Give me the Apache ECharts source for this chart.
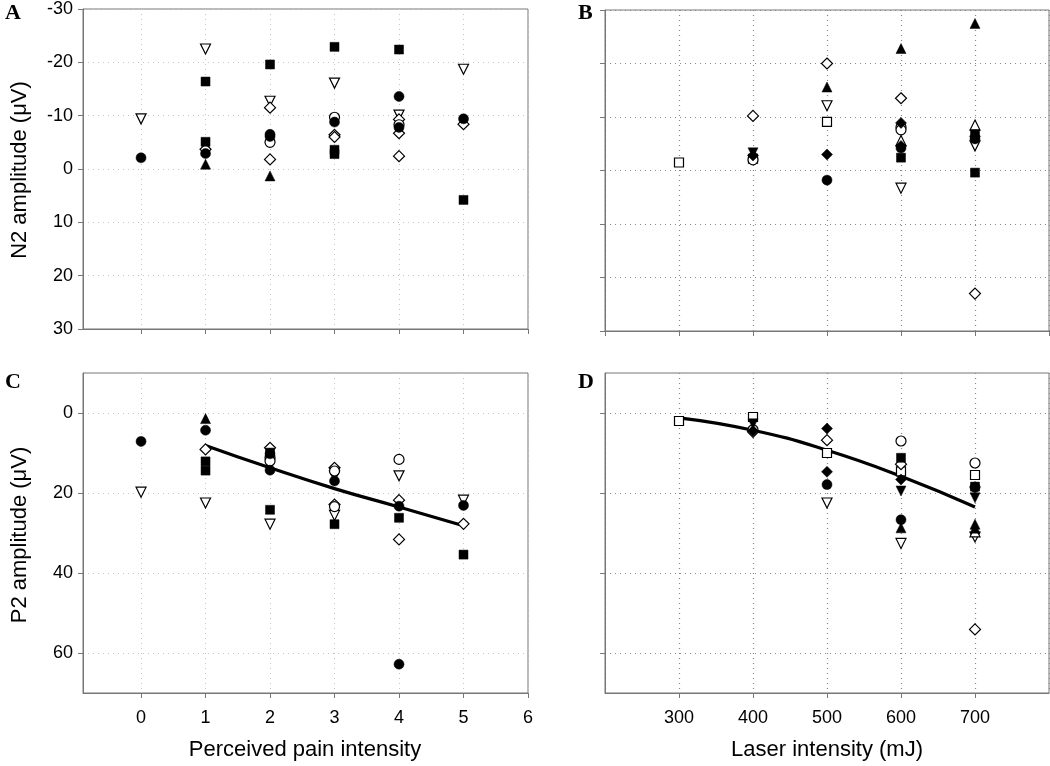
<!DOCTYPE html>
<html>
<head>
<meta charset="utf-8">
<script src="https://cdn.jsdelivr.net/npm/echarts@6/dist/echarts.min.js"></script>
<style>
html,body{margin:0;padding:0;background:#fff;}
#chart{width:1050px;height:766px;}
</style>
</head>
<body>
<div id="chart"></div>
<script>
// ---------- DATA ----------
// Tick labels
const painTicks = [0, 1, 2, 3, 4, 5, 6];
const laserTicks = [300, 400, 500, 600, 700];
const n2Ticks = [-30, -20, -10, 0, 10, 20, 30];
const p2Ticks = [0, 20, 40, 60];

// Panel A: N2 amplitude vs perceived pain intensity
const A_filledCircle   = [[0,-2.1],[1,-2.9],[2,-6.5],[2,-6.1],[3,-8.8],[4,-13.6],[4,-7.8],[5,-9.4]];
const A_filledSquare   = [[1,-16.4],[1,-5.1],[2,-19.6],[3,-22.9],[3,-3.6],[3,-2.8],[4,-22.4],[5,5.8]];
const A_filledTriangle = [[1,-0.9],[2,1.3]];
const A_openTriDown    = [[0,-9.4],[1,-22.5],[2,-12.7],[3,-16.1],[4,-10.1],[5,-18.7]];
const A_openDiamond    = [[1,-3.7],[2,-11.5],[2,-1.8],[3,-6.4],[3,-6.0],[4,-9.3],[4,-6.7],[4,-2.4],[5,-8.4]];
const A_openCircle     = [[2,-5.0],[3,-9.7],[4,-8.3]];

// Panel B: N2 amplitude vs laser intensity
const B_openSquare     = [[300,-1.5],[400,-2.2],[500,-9.1]];
const B_openDiamond    = [[400,-10.2],[500,-20.0],[600,-13.5],[700,23.0]];
const B_filledTriDown  = [[400,-3.3]];
const B_filledDiamond  = [[400,-2.8],[500,-3.0],[600,-8.9],[600,-4.6],[700,-6.4]];
const B_filledTriangle = [[500,-15.6],[600,-22.8],[700,-27.5]];
const B_openTriDown    = [[500,-12.1],[600,3.3],[700,-4.6]];
const B_filledCircle   = [[500,1.8],[600,-4.2],[700,-5.9]];
const B_openCircle     = [[400,-2.0],[600,-8.1],[600,-7.6]];
const B_openTriangle   = [[600,-5.6],[700,-8.5]];
const B_filledSquare   = [[600,-2.4],[700,0.4],[700,-6.8]];

// Panel C: P2 amplitude vs perceived pain intensity
const C_filledCircle   = [[0,7.1],[1,4.3],[2,10.2],[2,14.3],[3,17.0],[4,23.3],[4,62.8],[5,23.1]];
const C_openTriDown    = [[0,19.8],[1,22.5],[2,27.8],[3,15.8],[3,25.6],[4,15.7],[5,21.8]];
const C_filledTriangle = [[1,1.4]];
const C_openDiamond    = [[1,9.1],[2,8.7],[3,13.7],[3,22.9],[4,21.8],[4,31.6],[5,27.7]];
const C_filledSquare   = [[1,12.1],[1,14.4],[2,9.9],[2,24.2],[3,27.8],[4,26.2],[5,35.4]];
const C_openCircle     = [[2,11.2],[2,12.0],[3,14.5],[3,23.4],[4,11.6]];
const C_fit            = [[1,8.1],[2,13.7],[3,18.9],[4,23.5],[5,28.2]];

// Panel D: P2 amplitude vs laser intensity
const D_openSquare     = [[300,2.0],[400,1.0],[500,10.0],[600,14.6],[700,15.5]];
const D_filledTriDown  = [[400,2.7],[600,19.5],[700,21.2]];
const D_openCircle     = [[400,4.2],[600,7.0],[700,12.5]];
const D_openDiamond    = [[400,4.7],[500,6.8],[600,12.8],[700,54.1]];
const D_filledDiamond  = [[400,4.5],[500,3.9],[500,14.7],[600,16.6],[700,18.5]];
const D_filledCircle   = [[500,17.9],[600,26.7],[700,18.6]];
const D_openTriDown    = [[500,22.5],[600,32.6],[700,31.0]];
const D_filledSquare   = [[600,11.2],[700,18.4]];
const D_filledTriangle = [[600,28.7],[700,27.8],[700,28.8]];
const D_openTriangle   = [[700,29.7]];
const D_fit            = [[300,1.2],[400,4.3],[500,9.3],[600,15.8],[700,23.5]];

// ---------- STYLES ----------
const markerStyles = {
  filledCircle:   {symbol:'circle',   size:10, rotate:0,   open:false},
  filledSquare:   {symbol:'rect',     size:9,  rotate:0,   open:false},
  filledTriangle: {symbol:'triangle', size:10, rotate:0,   open:false},
  filledTriDown:  {symbol:'triangle', size:10, rotate:180, open:false},
  filledDiamond:  {symbol:'diamond',  size:11, rotate:0,   open:false},
  openCircle:     {symbol:'circle',   size:10, rotate:0,   open:true},
  openSquare:     {symbol:'rect',     size:9,  rotate:0,   open:true},
  openTriangle:   {symbol:'triangle', size:10, rotate:0,   open:true},
  openTriDown:    {symbol:'triangle', size:10, rotate:180, open:true},
  openDiamond:    {symbol:'diamond',  size:11, rotate:0,   open:true}
};

const panels = [
  {idx:0, sets:{filledCircle:A_filledCircle, filledSquare:A_filledSquare, filledTriangle:A_filledTriangle,
                openTriDown:A_openTriDown, openDiamond:A_openDiamond, openCircle:A_openCircle}},
  {idx:1, sets:{openSquare:B_openSquare, openDiamond:B_openDiamond, filledTriDown:B_filledTriDown,
                filledDiamond:B_filledDiamond, filledTriangle:B_filledTriangle, openTriDown:B_openTriDown,
                filledCircle:B_filledCircle, openCircle:B_openCircle, openTriangle:B_openTriangle, filledSquare:B_filledSquare}},
  {idx:2, sets:{filledCircle:C_filledCircle, openTriDown:C_openTriDown, filledTriangle:C_filledTriangle,
                openDiamond:C_openDiamond, filledSquare:C_filledSquare, openCircle:C_openCircle}, fit:C_fit},
  {idx:3, sets:{openSquare:D_openSquare, filledTriDown:D_filledTriDown, openCircle:D_openCircle,
                openDiamond:D_openDiamond, filledDiamond:D_filledDiamond, filledCircle:D_filledCircle,
                openTriDown:D_openTriDown, filledSquare:D_filledSquare, filledTriangle:D_filledTriangle,
                openTriangle:D_openTriangle}, fit:D_fit}
];

const series = [];
panels.forEach(p => {
  if (p.fit) {
    series.push({
      type:'line', xAxisIndex:p.idx, yAxisIndex:p.idx, data:p.fit, smooth:true,
      showSymbol:false, symbol:'none', lineStyle:{color:'#000', width:3.2}, z:3, silent:true
    });
  }
  Object.keys(p.sets).forEach(k => {
    const st = markerStyles[k];
    series.push({
      type:'scatter', xAxisIndex:p.idx, yAxisIndex:p.idx, data:p.sets[k],
      symbol:st.symbol, symbolSize:st.size, symbolRotate:st.rotate, z: st.open ? 4 : 5,
      itemStyle: st.open ? {color:'#fff', borderColor:'#000', borderWidth:1.2, opacity:1}
                         : {color:'#000', borderColor:'#000', borderWidth:0.5, opacity:1}
    });
  });
});

const frame = '#777';
const font = 'Liberation Sans, Arial, sans-serif';
const lab = {color:'#000', fontSize:18, fontFamily:font};

function xAxisPain(idx, showLabels) {
  return {
    type:'value', gridIndex:idx, min:-0.9, max:6,
    axisLine:{show:true, onZero:false, lineStyle:{color:frame}},
    axisTick:{show:true, length:5, lineStyle:{color:frame}, customValues:painTicks},
    axisLabel: Object.assign({show:showLabels, margin:16, customValues:painTicks}, lab),
    splitLine:{show:true, lineStyle:{color:'#c4c4c4', type:[1,4], width:1}}
  };
}
function xAxisLaser(idx, showLabels) {
  return {
    type:'value', gridIndex:idx, min:200, max:800, interval:100,
    axisLine:{show:true, onZero:false, lineStyle:{color:frame}},
    axisTick:{show:true, length:5, lineStyle:{color:frame}},
    axisLabel: Object.assign({show:showLabels, margin:16, showMinLabel:false, showMaxLabel:false,
      formatter: v => laserTicks.indexOf(v) >= 0 ? String(v) : ''}, lab),
    splitLine:{show:true, lineStyle:{color:'#888', type:[1,4], width:1.2}}
  };
}
function yAxisN2(idx, showLabels, gridColor) {
  return {
    type:'value', gridIndex:idx, min:-30, max:30, interval:10, inverse:true,
    axisLine:{show:true, onZero:false, lineStyle:{color:frame}},
    axisTick:{show:true, length:5, lineStyle:{color:frame}},
    axisLabel: Object.assign({show:showLabels, margin:10,
      formatter: v => n2Ticks.indexOf(v) >= 0 ? String(v) : ''}, lab),
    splitLine:{show:true, lineStyle:{color:gridColor, type:[1,4], width:gridColor === '#888' ? 1.2 : 1}}
  };
}
function yAxisP2(idx, showLabels, gridColor) {
  return {
    type:'value', gridIndex:idx, min:-10, max:70, inverse:true,
    axisLine:{show:true, onZero:false, lineStyle:{color:frame}},
    axisTick:{show:true, length:5, lineStyle:{color:frame}, customValues:p2Ticks},
    axisLabel: Object.assign({show:showLabels, margin:10, customValues:p2Ticks}, lab),
    splitLine:{show:true, lineStyle:{color:gridColor, type:[1,4], width:gridColor === '#888' ? 1.2 : 1}}
  };
}

const gridBase = {show:true, borderColor:frame, borderWidth:1, backgroundColor:'transparent', containLabel:false};

const option = {
  animation:false,
  backgroundColor:'#fff',
  grid:[
    Object.assign({left:83, top:9, width:445, height:320}, gridBase),
    Object.assign({left:605, top:10, width:444, height:321}, gridBase),
    Object.assign({left:83, top:373, width:445, height:320}, gridBase),
    Object.assign({left:605, top:373, width:444, height:320}, gridBase)
  ],
  xAxis:[ xAxisPain(0,false), xAxisLaser(1,false), xAxisPain(2,true), xAxisLaser(3,true) ],
  yAxis:[ yAxisN2(0,true,'#c4c4c4'), yAxisN2(1,false,'#888'), yAxisP2(2,true,'#c4c4c4'), yAxisP2(3,false,'#888') ],
  series: series,
  graphic:[
    {type:'text', left:5, top:2, style:{text:'A', font:'bold 22px "Liberation Serif", serif', fill:'#000'}},
    {type:'text', left:578, top:2, style:{text:'B', font:'bold 22px "Liberation Serif", serif', fill:'#000'}},
    {type:'text', left:5, top:371, style:{text:'C', font:'bold 22px "Liberation Serif", serif', fill:'#000'}},
    {type:'text', left:578, top:371, style:{text:'D', font:'bold 22px "Liberation Serif", serif', fill:'#000'}},
    {type:'text', x:20, y:170, rotation:Math.PI/2,
      style:{text:'N2 amplitude (\u03BCV)', font:'22px "Liberation Sans", Arial, sans-serif', fill:'#000', align:'center', verticalAlign:'middle'}},
    {type:'text', x:20, y:535, rotation:Math.PI/2,
      style:{text:'P2 amplitude (\u03BCV)', font:'22px "Liberation Sans", Arial, sans-serif', fill:'#000', align:'center', verticalAlign:'middle'}},
    {type:'text', x:305, y:750,
      style:{text:'Perceived pain intensity', font:'22px "Liberation Sans", Arial, sans-serif', fill:'#000', align:'center', verticalAlign:'middle'}},
    {type:'text', x:827, y:750,
      style:{text:'Laser intensity (mJ)', font:'22px "Liberation Sans", Arial, sans-serif', fill:'#000', align:'center', verticalAlign:'middle'}}
  ]
};

const chart = echarts.init(document.getElementById('chart'), null, {renderer:'canvas'});
chart.setOption(option);
</script>
</body>
</html>
